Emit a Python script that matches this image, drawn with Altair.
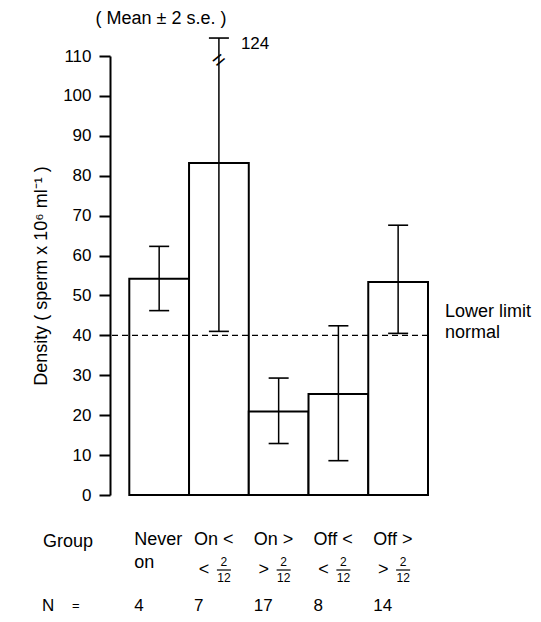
import altair as alt
import pandas as pd

# ---- data ----
group_line1 = ["Never", "On <", "On >", "Off <", "Off >"]
group_line2 = ["on", "", "", "", ""]
frac_sign = ["", "<", ">", "<", ">"]
frac_num = ["", "2", "2", "2", "2"]
frac_den = ["", "12", "12", "12", "12"]
mean_density = [54.2, 83.2, 20.9, 25.3, 53.4]
lower_2se = [46.2, 41.0, 12.9, 8.6, 40.5]
upper_2se = [62.3, 124, 29.3, 42.4, 67.6]
n_men = [4, 7, 17, 8, 14]
y_ticks = list(range(0, 111, 10))
lower_limit_normal = 40
axis_top = 110
break_cap = 114.5

idx = list(range(len(group_line1)))
df = pd.DataFrame({
    "left": idx,
    "right": [i + 1 for i in idx],
    "center": [i + 0.5 for i in idx],
    "mean": mean_density,
    "lower": lower_2se,
    "upper": upper_2se,
    "upper_drawn": [u if u <= axis_top else break_cap for u in upper_2se],
    "broken": [u > axis_top for u in upper_2se],
    "line1": group_line1,
    "line2": group_line2,
    "sign": frac_sign,
    "num": frac_num,
    "den": frac_den,
    "n": n_men,
})

WORD = "Liberation Sans"
NUM = "Liberation Sans"

x_scale = alt.Scale(domain=[-0.323, 5], nice=False, zero=False)
y_scale = alt.Scale(domain=[0, axis_top], nice=False, zero=True)


def X(field):
    return alt.X(field, scale=x_scale, axis=None)


def Y(field):
    return alt.Y(field, scale=y_scale, axis=None)


base = alt.Chart(df)

bars = base.mark_rect(fill="white", stroke="black", strokeWidth=2).encode(
    x=X("left:Q"),
    x2="right:Q",
    y=alt.Y(
        "mean:Q",
        scale=y_scale,
        axis=alt.Axis(
            values=y_ticks,
            title="Density ( sperm x 10\u2076 ml\u207b\u00b9 )",
            grid=False,
            domainColor="black",
            domainWidth=2,
            tickColor="black",
            tickWidth=2,
            tickSize=11,
            labelFont=NUM,
            labelFontSize=17,
            labelColor="black",
            labelPadding=8,
            labelOverlap=False,
            labelFlush=False,
            titleFont=WORD,
            titleFontSize=18,
            titleFontWeight="normal",
            titleColor="black",
            titlePadding=12,
        ),
    ),
    y2=alt.datum(0),
)

limit = alt.Chart(pd.DataFrame({"y": [lower_limit_normal]})).mark_rule(
    color="black", strokeDash=[6, 4], strokeWidth=1.3
).encode(y=Y("y:Q"))

err = base.mark_rule(color="black", strokeWidth=1.5).encode(
    x=X("center:Q"), y=Y("lower:Q"), y2="upper_drawn:Q"
)
cap_lo = base.mark_tick(orient="horizontal", size=20, thickness=1.6, color="black", opacity=1).encode(
    x=X("center:Q"), y=Y("lower:Q")
)
cap_hi = base.mark_tick(orient="horizontal", size=20, thickness=1.6, color="black", opacity=1).encode(
    x=X("center:Q"), y=Y("upper_drawn:Q")
)

brk = base.transform_filter("datum.broken").mark_text(
    text="=", angle=320, fontSize=22, font=WORD, color="black"
).encode(x=X("center:Q"), y=alt.YDatum(109, scale=y_scale, axis=None))

top_val = base.transform_filter("datum.broken").mark_text(
    align="left", baseline="middle", dx=22, dy=6, fontSize=17, font=NUM, color="black"
).encode(x=X("center:Q"), y=Y("upper_drawn:Q"), text=alt.Text("upper:Q", format="d"))

row1 = base.mark_text(align="left", baseline="middle", dx=5, fontSize=18, font=WORD, color="black").encode(
    x=X("left:Q"), y=alt.value(484), text="line1:N"
)
row2 = base.mark_text(align="left", baseline="middle", dx=5, fontSize=18, font=WORD, color="black").encode(
    x=X("left:Q"), y=alt.value(507), text="line2:N"
)
frac = base.transform_filter("datum.sign != ''")
sign = frac.mark_text(align="center", baseline="middle", dx=-15, fontSize=18, font=WORD, color="black").encode(
    x=X("center:Q"), y=alt.value(514), text="sign:N"
)
num = frac.mark_text(align="center", baseline="middle", dx=5, fontSize=12, font=WORD, color="black").encode(
    x=X("center:Q"), y=alt.value(506), text="num:N"
)
den = frac.mark_text(align="center", baseline="middle", dx=5, fontSize=12, font=WORD, color="black").encode(
    x=X("center:Q"), y=alt.value(522), text="den:N"
)
fbar = frac.mark_rule(color="black", strokeWidth=1.2, xOffset=-2, x2Offset=12).encode(
    x=X("center:Q"), x2="center:Q", y=alt.value(514)
)
nrow = base.mark_text(align="left", baseline="middle", dx=5, fontSize=17, font=NUM, color="black").encode(
    x=X("left:Q"), y=alt.value(550), text="n:Q"
)


def label(txt, x, y, size=18, font=WORD, align="left"):
    return alt.Chart(pd.DataFrame({"t": [txt]})).mark_text(
        align=align, baseline="middle", fontSize=size, font=font, color="black"
    ).encode(x=alt.value(x), y=alt.value(y), text="t:N")


group_lbl = label("Group", -67, 486)
n_lbl = label("N", -68, 550, size=17)
eq_lbl = label("=", -38, 550, size=13)
title_lbl = label("( Mean \u00b1 2 s.e. )", 51, -37, align="center")

lim1 = alt.Chart(pd.DataFrame({"t": ["Lower limit"], "y": [lower_limit_normal]})).mark_text(
    align="left", baseline="middle", dx=17, dy=-23, fontSize=18, font=WORD, color="black"
).encode(x=alt.value(318), y=Y("y:Q"), text="t:N")
lim2 = alt.Chart(pd.DataFrame({"t": ["normal"], "y": [lower_limit_normal]})).mark_text(
    align="left", baseline="middle", dx=17, dy=-2, fontSize=18, font=WORD, color="black"
).encode(x=alt.value(318), y=Y("y:Q"), text="t:N")

chart = alt.layer(
    bars, limit, err, cap_lo, cap_hi, brk, top_val,
    row1, row2, sign, num, den, fbar, nrow,
    group_lbl, n_lbl, eq_lbl, title_lbl, lim1, lim2,
).resolve_axis(y="independent").properties(
    width=318,
    height=439,
    autosize=alt.AutoSizeParams(type="none"),
    padding={"left": 102, "top": 48, "right": 105, "bottom": 119},
    background="white",
).configure_view(stroke=None)

chart.save("out.html", embed_options={"renderer": "svg", "actions": False})
